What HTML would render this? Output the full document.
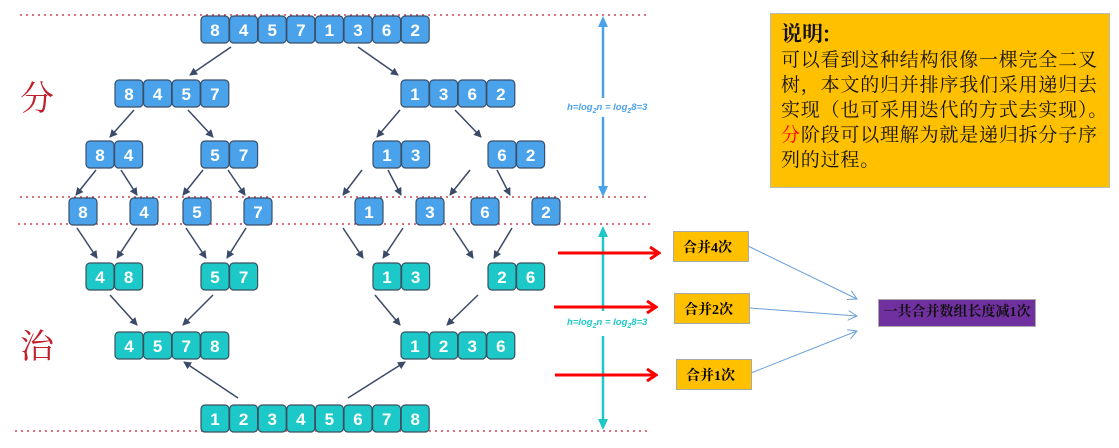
<!DOCTYPE html>
<html><head><meta charset="utf-8"><style>
html,body{margin:0;padding:0;background:#fff;width:1119px;height:448px;overflow:hidden;position:relative}
.note{position:absolute;left:770px;top:13px;width:340px;height:175px;background:#ffc000;border:1px solid #bbb;box-sizing:border-box;padding:6px 0 0 10px;font-family:"Noto Serif CJK SC",serif;color:#111;white-space:nowrap;overflow:hidden}
.note h1{margin:0;font-size:21px;line-height:26px;font-weight:bold}
.note p{margin:0;font-size:19px;line-height:25px;letter-spacing:0.8px}
.lab{position:absolute;background:#ffc000;border:1px solid #aaa;box-sizing:border-box;font-family:"Liberation Serif","Noto Serif CJK SC",serif;font-weight:bold;font-size:14px;padding:5px 0 0 9px;color:#000}
.pur{position:absolute;left:878px;top:299px;width:158px;height:28px;background:#7030a0;border:1px solid #aaa;box-sizing:border-box;font-family:"Liberation Serif","Noto Serif CJK SC",serif;font-weight:bold;font-size:14px;text-align:center;line-height:25px;color:#111;white-space:nowrap}
</style></head><body>
<svg width="1119" height="448" style="position:absolute;left:0;top:0" font-family="Liberation Sans, sans-serif">
<defs>
<marker id="ah" markerWidth="8" markerHeight="8" refX="7" refY="4" orient="auto" markerUnits="userSpaceOnUse"><path d="M0,0 L8,4 L0,8 Z" fill="#3a4a68"/></marker>
<marker id="rh" markerWidth="12" markerHeight="14" refX="10" refY="7" orient="auto" markerUnits="userSpaceOnUse"><path d="M1,1 L10,7 L1,13" fill="none" stroke="#f00" stroke-width="3"/></marker>
<marker id="bh" markerWidth="10" markerHeight="10" refX="9" refY="5" orient="auto" markerUnits="userSpaceOnUse"><path d="M0,0 L9,5 L0,10" fill="none" stroke="#6a9fd8" stroke-width="1"/></marker>
</defs>
<g stroke="#d04050" stroke-width="1.5" stroke-dasharray="2,4">
<line x1="20" y1="15" x2="650" y2="15"/><line x1="20" y1="197" x2="650" y2="197"/><line x1="18" y1="224" x2="650" y2="224"/><line x1="15" y1="431" x2="650" y2="431"/>
</g>
<text x="20" y="110" font-size="34" fill="#c0202a" font-family="Noto Serif CJK SC, serif">分</text>
<text x="20" y="358" font-size="34" fill="#c0202a" font-family="Noto Serif CJK SC, serif">治</text>
<g stroke="#3a4a68" stroke-width="1.5" marker-end="url(#ah)">
<line x1="231" y1="47" x2="190" y2="75"/><line x1="358" y1="47" x2="398" y2="75"/>
<line x1="134" y1="110" x2="110" y2="137"/><line x1="188" y1="110" x2="213" y2="137"/><line x1="400" y1="110" x2="377" y2="137"/><line x1="455" y1="110" x2="481" y2="137"/>
<line x1="96" y1="170" x2="76" y2="195"/><line x1="121" y1="170" x2="137" y2="195"/><line x1="203" y1="170" x2="183" y2="195"/><line x1="228" y1="170" x2="245" y2="195"/><line x1="362" y1="170" x2="343" y2="195"/><line x1="388" y1="170" x2="401" y2="195"/><line x1="470" y1="170" x2="450" y2="195"/><line x1="497" y1="170" x2="510" y2="195"/>
<line x1="77" y1="228" x2="97" y2="258"/><line x1="137" y1="228" x2="117" y2="258"/><line x1="186" y1="228" x2="206" y2="258"/><line x1="246" y1="228" x2="227" y2="258"/><line x1="343" y1="228" x2="363" y2="258"/><line x1="403" y1="228" x2="383" y2="258"/><line x1="453" y1="228" x2="473" y2="258"/><line x1="512" y1="228" x2="494" y2="258"/>
<line x1="110" y1="295" x2="137" y2="325"/><line x1="213" y1="295" x2="183" y2="325"/><line x1="375" y1="295" x2="400" y2="325"/><line x1="478" y1="295" x2="447" y2="325"/>
<line x1="238" y1="398" x2="184" y2="362"/><line x1="348" y1="398" x2="405" y2="362"/>
</g>
<g fill="#4aa3ea" stroke="#3a4f6a" stroke-width="1.2">
<rect x="201" y="16" width="28" height="27" rx="4"/><rect x="229.6" y="16" width="28" height="27" rx="4"/><rect x="258.2" y="16" width="28" height="27" rx="4"/><rect x="286.8" y="16" width="28" height="27" rx="4"/><rect x="315.4" y="16" width="28" height="27" rx="4"/><rect x="344" y="16" width="28" height="27" rx="4"/><rect x="372.6" y="16" width="28" height="27" rx="4"/><rect x="401.2" y="16" width="28" height="27" rx="4"/>
<rect x="115" y="80" width="28" height="27" rx="4"/><rect x="143.6" y="80" width="28" height="27" rx="4"/><rect x="172.2" y="80" width="28" height="27" rx="4"/><rect x="200.8" y="80" width="28" height="27" rx="4"/>
<rect x="401" y="80" width="28" height="27" rx="4"/><rect x="429.6" y="80" width="28" height="27" rx="4"/><rect x="458.2" y="80" width="28" height="27" rx="4"/><rect x="486.8" y="80" width="28" height="27" rx="4"/>
<rect x="86" y="141" width="28" height="27" rx="4"/><rect x="114.6" y="141" width="28" height="27" rx="4"/>
<rect x="201" y="141" width="28" height="27" rx="4"/><rect x="229.6" y="141" width="28" height="27" rx="4"/>
<rect x="373" y="141" width="28" height="27" rx="4"/><rect x="401.6" y="141" width="28" height="27" rx="4"/>
<rect x="488" y="141" width="28" height="27" rx="4"/><rect x="516.6" y="141" width="28" height="27" rx="4"/>
<rect x="69" y="198" width="28" height="27" rx="4"/><rect x="130" y="198" width="28" height="27" rx="4"/><rect x="183" y="198" width="28" height="27" rx="4"/><rect x="244" y="198" width="28" height="27" rx="4"/><rect x="355" y="198" width="28" height="27" rx="4"/><rect x="416" y="198" width="28" height="27" rx="4"/><rect x="471" y="198" width="28" height="27" rx="4"/><rect x="532" y="198" width="28" height="27" rx="4"/>
</g>
<g fill="#1cc8c8" stroke="#3a5060" stroke-width="1.2">
<rect x="86" y="263" width="28" height="27" rx="4"/><rect x="114.6" y="263" width="28" height="27" rx="4"/>
<rect x="201" y="263" width="28" height="27" rx="4"/><rect x="229.6" y="263" width="28" height="27" rx="4"/>
<rect x="373" y="263" width="28" height="27" rx="4"/><rect x="401.6" y="263" width="28" height="27" rx="4"/>
<rect x="488" y="263" width="28" height="27" rx="4"/><rect x="516.6" y="263" width="28" height="27" rx="4"/>
<rect x="115" y="332" width="28" height="27" rx="4"/><rect x="143.6" y="332" width="28" height="27" rx="4"/><rect x="172.2" y="332" width="28" height="27" rx="4"/><rect x="200.8" y="332" width="28" height="27" rx="4"/>
<rect x="401" y="332" width="28" height="27" rx="4"/><rect x="429.6" y="332" width="28" height="27" rx="4"/><rect x="458.2" y="332" width="28" height="27" rx="4"/><rect x="486.8" y="332" width="28" height="27" rx="4"/>
<rect x="201" y="405" width="28" height="27" rx="4"/><rect x="229.6" y="405" width="28" height="27" rx="4"/><rect x="258.2" y="405" width="28" height="27" rx="4"/><rect x="286.8" y="405" width="28" height="27" rx="4"/><rect x="315.4" y="405" width="28" height="27" rx="4"/><rect x="344" y="405" width="28" height="27" rx="4"/><rect x="372.6" y="405" width="28" height="27" rx="4"/><rect x="401.2" y="405" width="28" height="27" rx="4"/>
</g>
<g fill="#fff" font-size="17" font-weight="bold" text-anchor="middle">
<text y="36"><tspan x="215">8</tspan><tspan x="243.6">4</tspan><tspan x="272.2">5</tspan><tspan x="300.8">7</tspan><tspan x="329.4">1</tspan><tspan x="358">3</tspan><tspan x="386.6">6</tspan><tspan x="415.2">2</tspan></text>
<text y="100"><tspan x="129">8</tspan><tspan x="157.6">4</tspan><tspan x="186.2">5</tspan><tspan x="214.8">7</tspan><tspan x="415">1</tspan><tspan x="443.6">3</tspan><tspan x="472.2">6</tspan><tspan x="500.8">2</tspan></text>
<text y="161"><tspan x="100">8</tspan><tspan x="128.6">4</tspan><tspan x="215">5</tspan><tspan x="243.6">7</tspan><tspan x="387">1</tspan><tspan x="415.6">3</tspan><tspan x="502">6</tspan><tspan x="530.6">2</tspan></text>
<text y="218"><tspan x="83">8</tspan><tspan x="144">4</tspan><tspan x="197">5</tspan><tspan x="258">7</tspan><tspan x="369">1</tspan><tspan x="430">3</tspan><tspan x="485">6</tspan><tspan x="546">2</tspan></text>
<text y="283"><tspan x="100">4</tspan><tspan x="128.6">8</tspan><tspan x="215">5</tspan><tspan x="243.6">7</tspan><tspan x="387">1</tspan><tspan x="415.6">3</tspan><tspan x="502">2</tspan><tspan x="530.6">6</tspan></text>
<text y="352"><tspan x="129">4</tspan><tspan x="157.6">5</tspan><tspan x="186.2">7</tspan><tspan x="214.8">8</tspan><tspan x="415">1</tspan><tspan x="443.6">2</tspan><tspan x="472.2">3</tspan><tspan x="500.8">6</tspan></text>
<text y="425"><tspan x="215">1</tspan><tspan x="243.6">2</tspan><tspan x="272.2">3</tspan><tspan x="300.8">4</tspan><tspan x="329.4">5</tspan><tspan x="358">6</tspan><tspan x="386.6">7</tspan><tspan x="415.2">8</tspan></text>
</g>
<g stroke-width="2.5">
<line x1="603" y1="26" x2="603" y2="98" stroke="#4aa3ea"/>
<line x1="603" y1="117" x2="603" y2="187" stroke="#4aa3ea"/>
<line x1="603" y1="236" x2="603" y2="311" stroke="#1cc8c8"/>
<line x1="603" y1="336" x2="603" y2="420" stroke="#1cc8c8"/>
</g>
<polygon points="603,16 598,27 608,27" fill="#4aa3ea"/>
<polygon points="603,197 598,186 608,186" fill="#4aa3ea"/>
<polygon points="603,226 598,237 608,237" fill="#1cc8c8"/>
<polygon points="603,430 598,419 608,419" fill="#1cc8c8"/>
<text x="567" y="110" font-size="9.5" font-style="italic" font-weight="bold" fill="#4aa3ea">h=log<tspan font-size="7" dy="3">2</tspan><tspan dy="-3">n = log</tspan><tspan font-size="7" dy="3">2</tspan><tspan dy="-3">8=3</tspan></text>
<text x="567" y="325" font-size="9.5" font-style="italic" font-weight="bold" fill="#1cc8c8">h=log<tspan font-size="7" dy="3">2</tspan><tspan dy="-3">n = log</tspan><tspan font-size="7" dy="3">2</tspan><tspan dy="-3">8=3</tspan></text>
<g stroke="#f00" stroke-width="3" marker-end="url(#rh)">
<line x1="558" y1="253" x2="659" y2="253"/><line x1="554" y1="307" x2="656" y2="307"/><line x1="555" y1="375" x2="656" y2="375"/>
</g>
<g stroke="#6a9fd8" stroke-width="1" marker-end="url(#bh)">
<line x1="748" y1="246" x2="857" y2="299"/><line x1="750" y1="308" x2="857" y2="316"/><line x1="751" y1="373" x2="857" y2="331"/>
</g>
</svg>
<div class="note"><h1>说明:</h1><p>可以看到这种结构很像一棵完全二叉<br>树，本文的归并排序我们采用递归去<br>实现（也可采用迭代的方式去实现）。<br><span style="color:#f00">分</span>阶段可以理解为就是递归拆分子序<br>列的过程。</p></div>
<div class="lab" style="left:673px;top:231px;width:76px;height:31px">合并4次</div>
<div class="lab" style="left:674px;top:293px;width:76px;height:31px">合并2次</div>
<div class="lab" style="left:676px;top:359px;width:76px;height:31px">合并1次</div>
<div class="pur">一共合并数组长度减1次</div>
</body></html>
